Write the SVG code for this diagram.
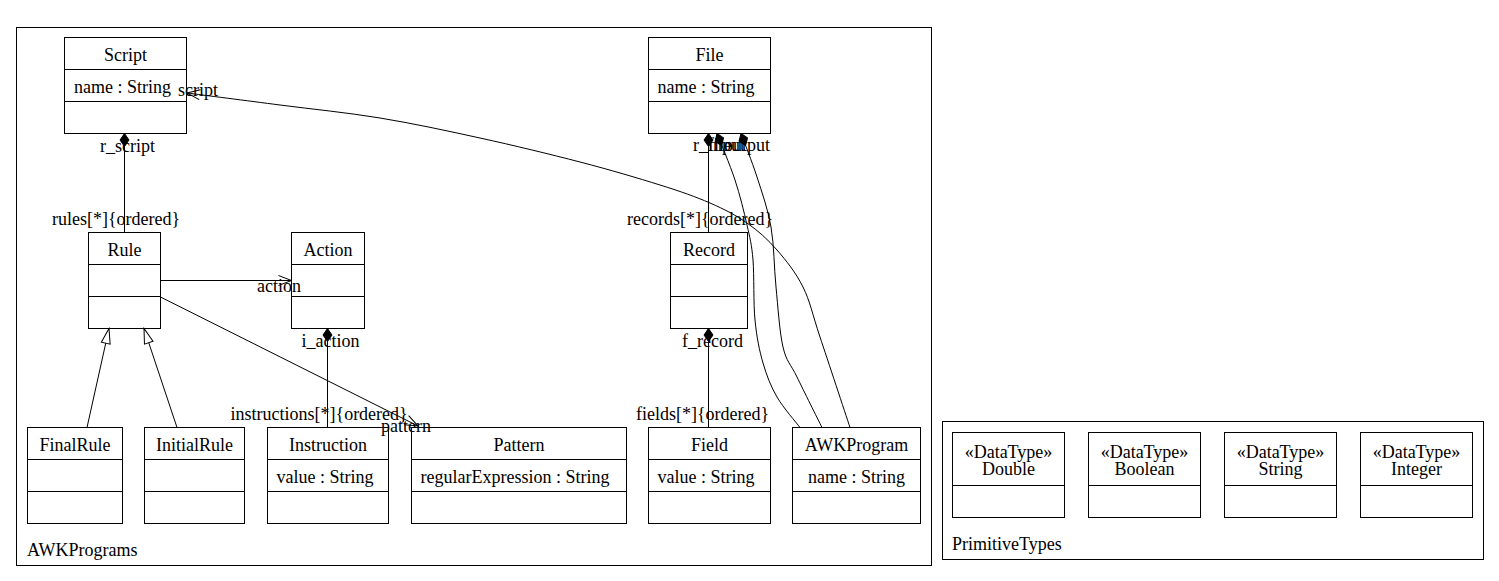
<svg xmlns="http://www.w3.org/2000/svg" width="1499" height="581" viewBox="0 0 1499 581">
<style>
rect{fill:#fff;stroke:#000;stroke-width:1}
.d{stroke:#000;stroke-width:1}
text{font-family:"Liberation Serif","Times New Roman",serif;font-size:18px;fill:#000}
.c{text-anchor:middle}
.e{fill:none;stroke:#000;stroke-width:1}
</style>
<defs>
<marker id="dia" markerUnits="userSpaceOnUse" markerWidth="20" markerHeight="20" orient="auto" overflow="visible" refX="0" refY="0">
<path d="M0,0 L6.5,-4.5 L13,0 L6.5,4.5 Z" fill="#000" stroke="#000" stroke-width="1"/>
</marker>
<marker id="arr" markerUnits="userSpaceOnUse" markerWidth="20" markerHeight="20" orient="auto" overflow="visible" refX="0" refY="0">
<path d="M-13,-5 L0,0 L-13,5" fill="none" stroke="#000" stroke-width="1"/>
</marker>
<marker id="tri" markerUnits="userSpaceOnUse" markerWidth="20" markerHeight="20" orient="auto" overflow="visible" refX="0" refY="0">
<path d="M0,0 L-15,-4.5 L-15,4.5 Z" fill="#fff" stroke="#000" stroke-width="1"/>
</marker>
</defs>

<g id="pkg-AWKPrograms">
<rect x="16.5" y="27.5" width="915" height="538"/>
<text x="27" y="556">AWKPrograms</text>
</g>
<g id="pkg-PrimitiveTypes">
<rect x="942.5" y="421.5" width="541" height="138"/>
<text x="952" y="550">PrimitiveTypes</text>
</g>

<g id="Script">
<rect x="64.5" y="37.5" width="122" height="96"/>
<line class="d" x1="64.5" y1="69.5" x2="186.5" y2="69.5"/>
<line class="d" x1="64.5" y1="101.5" x2="186.5" y2="101.5"/>
<text class="c" x="125.5" y="61">Script</text>
<text x="74" y="93">name : String</text>
</g>
<g id="File">
<rect x="648.5" y="37.5" width="122" height="96"/>
<line class="d" x1="648.5" y1="69.5" x2="770.5" y2="69.5"/>
<line class="d" x1="648.5" y1="101.5" x2="770.5" y2="101.5"/>
<text class="c" x="709.5" y="61">File</text>
<text x="657.5" y="93">name : String</text>
</g>
<g id="Rule">
<rect x="88.5" y="232.5" width="72" height="96"/>
<line class="d" x1="88.5" y1="264.5" x2="160.5" y2="264.5"/>
<line class="d" x1="88.5" y1="296.5" x2="160.5" y2="296.5"/>
<text class="c" x="124.5" y="256">Rule</text>
</g>
<g id="Action">
<rect x="291.5" y="232.5" width="73" height="96"/>
<line class="d" x1="291.5" y1="264.5" x2="364.5" y2="264.5"/>
<line class="d" x1="291.5" y1="296.5" x2="364.5" y2="296.5"/>
<text class="c" x="328" y="256">Action</text>
</g>
<g id="Record">
<rect x="670.5" y="232.5" width="77" height="96"/>
<line class="d" x1="670.5" y1="264.5" x2="747.5" y2="264.5"/>
<line class="d" x1="670.5" y1="296.5" x2="747.5" y2="296.5"/>
<text class="c" x="709" y="256">Record</text>
</g>
<g id="FinalRule">
<rect x="27.5" y="427.5" width="95" height="96"/>
<line class="d" x1="27.5" y1="459.5" x2="122.5" y2="459.5"/>
<line class="d" x1="27.5" y1="491.5" x2="122.5" y2="491.5"/>
<text class="c" x="75" y="451">FinalRule</text>
</g>
<g id="InitialRule">
<rect x="144.5" y="427.5" width="100" height="96"/>
<line class="d" x1="144.5" y1="459.5" x2="244.5" y2="459.5"/>
<line class="d" x1="144.5" y1="491.5" x2="244.5" y2="491.5"/>
<text class="c" x="194.5" y="451">InitialRule</text>
</g>
<g id="Instruction">
<rect x="267.5" y="427.5" width="121" height="96"/>
<line class="d" x1="267.5" y1="459.5" x2="388.5" y2="459.5"/>
<line class="d" x1="267.5" y1="491.5" x2="388.5" y2="491.5"/>
<text class="c" x="328" y="451">Instruction</text>
<text x="276.5" y="483">value : String</text>
</g>
<g id="Pattern">
<rect x="411.5" y="427.5" width="215" height="96"/>
<line class="d" x1="411.5" y1="459.5" x2="626.5" y2="459.5"/>
<line class="d" x1="411.5" y1="491.5" x2="626.5" y2="491.5"/>
<text class="c" x="519" y="451">Pattern</text>
<text x="420.5" y="483">regularExpression : String</text>
</g>
<g id="Field">
<rect x="648.5" y="427.5" width="122" height="96"/>
<line class="d" x1="648.5" y1="459.5" x2="770.5" y2="459.5"/>
<line class="d" x1="648.5" y1="491.5" x2="770.5" y2="491.5"/>
<text class="c" x="709.5" y="451">Field</text>
<text x="657.5" y="483">value : String</text>
</g>
<g id="AWKProgram">
<rect x="792.5" y="427.5" width="128" height="96"/>
<line class="d" x1="792.5" y1="459.5" x2="920.5" y2="459.5"/>
<line class="d" x1="792.5" y1="491.5" x2="920.5" y2="491.5"/>
<text class="c" x="856.5" y="451">AWKProgram</text>
<text class="c" x="856.5" y="483">name : String</text>
</g>

<g id="Double">
<rect x="952.5" y="432.5" width="112" height="85"/>
<line class="d" x1="952.5" y1="485.5" x2="1064.5" y2="485.5"/>
<text class="c" x="1008.5" y="458">«DataType»</text>
<text class="c" x="1008.5" y="475">Double</text>
</g>
<g id="Boolean">
<rect x="1088.5" y="432.5" width="112" height="85"/>
<line class="d" x1="1088.5" y1="485.5" x2="1200.5" y2="485.5"/>
<text class="c" x="1144.5" y="458">«DataType»</text>
<text class="c" x="1144.5" y="475">Boolean</text>
</g>
<g id="String">
<rect x="1224.5" y="432.5" width="112" height="85"/>
<line class="d" x1="1224.5" y1="485.5" x2="1336.5" y2="485.5"/>
<text class="c" x="1280.5" y="458">«DataType»</text>
<text class="c" x="1280.5" y="475">String</text>
</g>
<g id="Integer">
<rect x="1360.5" y="432.5" width="112" height="85"/>
<line class="d" x1="1360.5" y1="485.5" x2="1472.5" y2="485.5"/>
<text class="c" x="1416.5" y="458">«DataType»</text>
<text class="c" x="1416.5" y="475">Integer</text>
</g>

<g id="connectors">
<path class="e" d="M124.5,133.5 L124.5,232.5" marker-start="url(#dia)"/>
<path class="e" d="M708.5,133.5 L708.5,232.5" marker-start="url(#dia)"/>
<path class="e" d="M708.5,328.5 L708.5,427.5" marker-start="url(#dia)"/>
<path class="e" d="M327.5,328.5 L327.5,427.5" marker-start="url(#dia)"/>
<path class="e" d="M160.5,280.5 L291.5,280.5" marker-end="url(#arr)"/>
<path class="e" d="M160.5,297 L418,426" marker-end="url(#arr)"/>
<path class="e" d="M87,427.5 L109,328.5" marker-end="url(#tri)"/>
<path class="e" d="M177,427.5 L144,328.5" marker-end="url(#tri)"/>
<path class="e" d="M850,427.5 C845,412.4 827.8,360.4 820,337 C812.2,313.6 810.2,301.5 803,287 C795.8,272.5 786.3,260.7 777,250 C767.7,239.3 758.2,230.8 747,223 C735.8,215.2 724.5,209.3 710,203 C695.5,196.7 681.7,191.8 660,185 C638.3,178.2 610,169.8 580,162 C550,154.2 513.3,145.3 480,138 C446.7,130.7 413.3,123.5 380,118 C346.7,112.5 312.2,109.2 280,105 C247.8,100.8 202.5,95 187,93" marker-end="url(#arr)"/>
<path class="e" d="M717,133.5 C720,141.3 730,164.75 735,180 C740,195.25 744,211.7 747,225 C750,238.3 751.7,244.2 753,260 C754.3,275.8 753.3,302.8 755,320 C756.7,337.2 759.3,350.2 763,363 C766.7,375.8 770.8,386.25 777,397 C783.2,407.75 796.2,422.4 800,427.5" marker-start="url(#dia)"/>
<path class="e" d="M741,133.5 C743.7,140.75 752,161.4 757,177 C762,192.6 767.8,208.7 771,227 C774.2,245.3 774,267 776,287 C778,307 779.5,332 783,347 C786.5,362 790.5,363.6 797,377 C803.5,390.4 817.8,419.1 822,427.5" marker-start="url(#dia)"/>
<text x="100" y="151.5">r_script</text>
<text x="52" y="225">rules[*]{ordered}</text>
<text x="178" y="96">script</text>
<text x="257" y="291.5">action</text>
<text x="301.5" y="346.5">i_action</text>
<text x="230.5" y="420">instructions[*]{ordered}</text>
<text x="381" y="431.5">pattern</text>
<text x="693" y="151">r_file</text>
<text x="708" y="151">input</text>
<text x="724" y="151">output</text>
<text x="627" y="225">records[*]{ordered}</text>
<text x="682" y="346.5">f_record</text>
<text x="636" y="420">fields[*]{ordered}</text>
</g>
</svg>
